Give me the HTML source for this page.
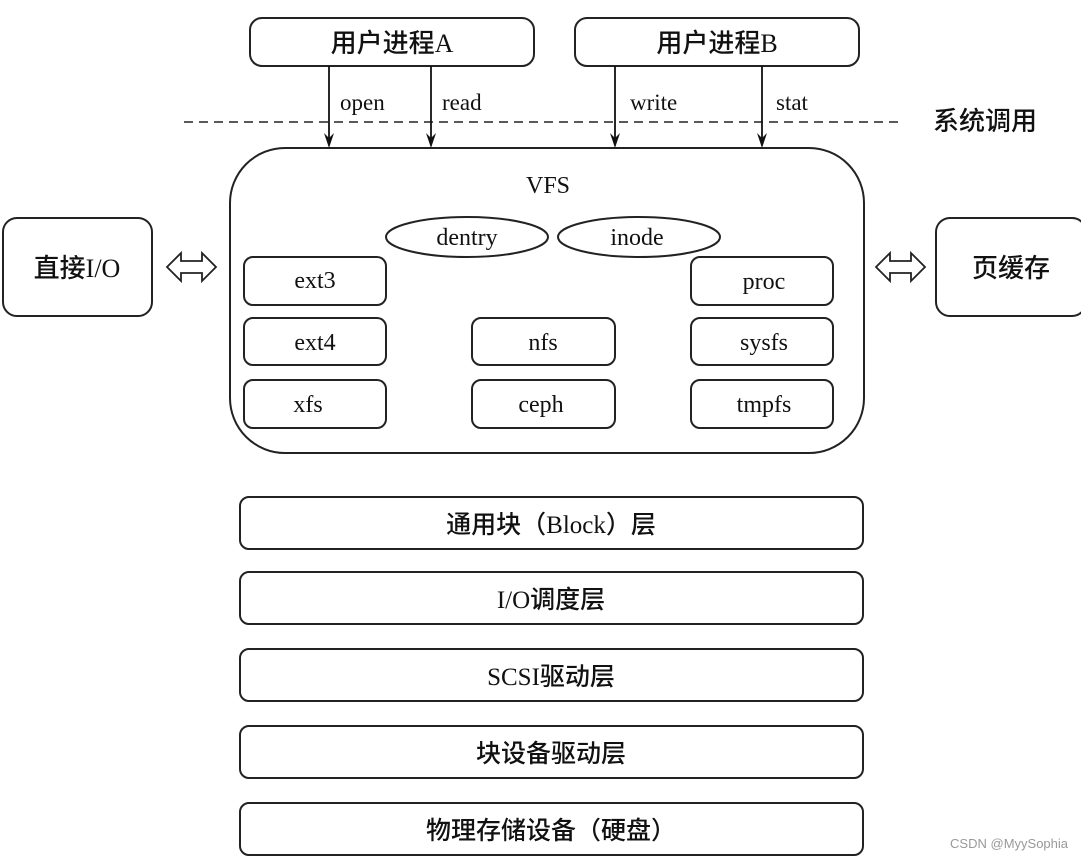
<!DOCTYPE html>
<html><head><meta charset="utf-8"><style>
html,body{margin:0;padding:0;background:#fff;}
svg text{font-family:"Liberation Serif","Noto Sans CJK SC",sans-serif;fill:#111;}
</style></head><body>
<svg width="1081" height="860" viewBox="0 0 1081 860" xmlns="http://www.w3.org/2000/svg">
<g fill="none" stroke="#222" stroke-width="2">
<rect x="250" y="18" width="284" height="48" rx="12"/>
<rect x="575" y="18" width="284" height="48" rx="12"/>
<line x1="184" y1="122" x2="902" y2="122" stroke-dasharray="9,6" stroke-width="1.5"/>
<rect x="230" y="148" width="634" height="305" rx="55"/>
<rect x="3" y="218" width="149" height="98" rx="14"/>
<rect x="936" y="218" width="150" height="98" rx="14"/>
<ellipse cx="467" cy="237" rx="81" ry="20"/>
<ellipse cx="639" cy="237" rx="81" ry="20"/>
<rect x="244" y="257" width="142" height="48" rx="9"/>
<rect x="244" y="318" width="142" height="47" rx="9"/>
<rect x="244" y="380" width="142" height="48" rx="9"/>
<rect x="472" y="318" width="143" height="47" rx="9"/>
<rect x="472" y="380" width="143" height="48" rx="9"/>
<rect x="691" y="257" width="142" height="48" rx="9"/>
<rect x="691" y="318" width="142" height="47" rx="9"/>
<rect x="691" y="380" width="142" height="48" rx="9"/>
<rect x="240" y="497" width="623" height="52" rx="9"/>
<rect x="240" y="572" width="623" height="52" rx="9"/>
<rect x="240" y="649" width="623" height="52" rx="9"/>
<rect x="240" y="726" width="623" height="52" rx="9"/>
<rect x="240" y="803" width="623" height="52" rx="9"/>
</g>
<g stroke="#111" stroke-width="1.8">
<line x1="329" y1="66" x2="329" y2="140"/>
<line x1="431" y1="66" x2="431" y2="140"/>
<line x1="615" y1="66" x2="615" y2="140"/>
<line x1="762" y1="66" x2="762" y2="140"/>
</g>
<g fill="#111">
<path d="M324,133 L329,148 L334,133 L329,138 Z"/>
<path d="M426,133 L431,148 L436,133 L431,138 Z"/>
<path d="M610,133 L615,148 L620,133 L615,138 Z"/>
<path d="M757,133 L762,148 L767,133 L762,138 Z"/>
</g>
<g fill="#fff" stroke="#222" stroke-width="1.8">
<path d="M167,267 L181,253 L181,261 L202,261 L202,253 L216,267 L202,281 L202,273 L181,273 L181,281 Z"/>
<path d="M876,267 L890,253 L890,261 L911,261 L911,253 L925,267 L911,281 L911,273 L890,273 L890,281 Z"/>
</g>
<g font-size="26" text-anchor="middle" font-weight="500">
<text x="392" y="52">用户进程A</text>
<text x="717" y="52">用户进程B</text>
<text x="77" y="277">直接I/O</text>
<text x="1011" y="277">页缓存</text>
<text x="985" y="130">系统调用</text>
</g>
<g font-size="23">
<text x="340" y="110">open</text>
<text x="442" y="110">read</text>
<text x="630" y="110">write</text>
<text x="776" y="110">stat</text>
</g>
<g font-size="24" text-anchor="middle">
<text x="548" y="193">VFS</text>
<text x="467" y="245">dentry</text>
<text x="637" y="245">inode</text>
<text x="315" y="288">ext3</text>
<text x="315" y="350">ext4</text>
<text x="308" y="412">xfs</text>
<text x="543" y="350">nfs</text>
<text x="541" y="412">ceph</text>
<text x="764" y="289">proc</text>
<text x="764" y="350">sysfs</text>
<text x="764" y="412">tmpfs</text>
</g>
<g font-size="25" text-anchor="middle" font-weight="500">
<text x="551" y="533">通用块（Block）层</text>
<text x="551" y="608">I/O调度层</text>
<text x="551" y="685">SCSI驱动层</text>
<text x="551" y="762">块设备驱动层</text>
<text x="551" y="839">物理存储设备（硬盘）</text>
</g>
<text x="1068" y="848" font-size="13" text-anchor="end" style="font-family:'Liberation Sans',sans-serif;fill:#999">CSDN @MyySophia</text>
</svg>
</body></html>
